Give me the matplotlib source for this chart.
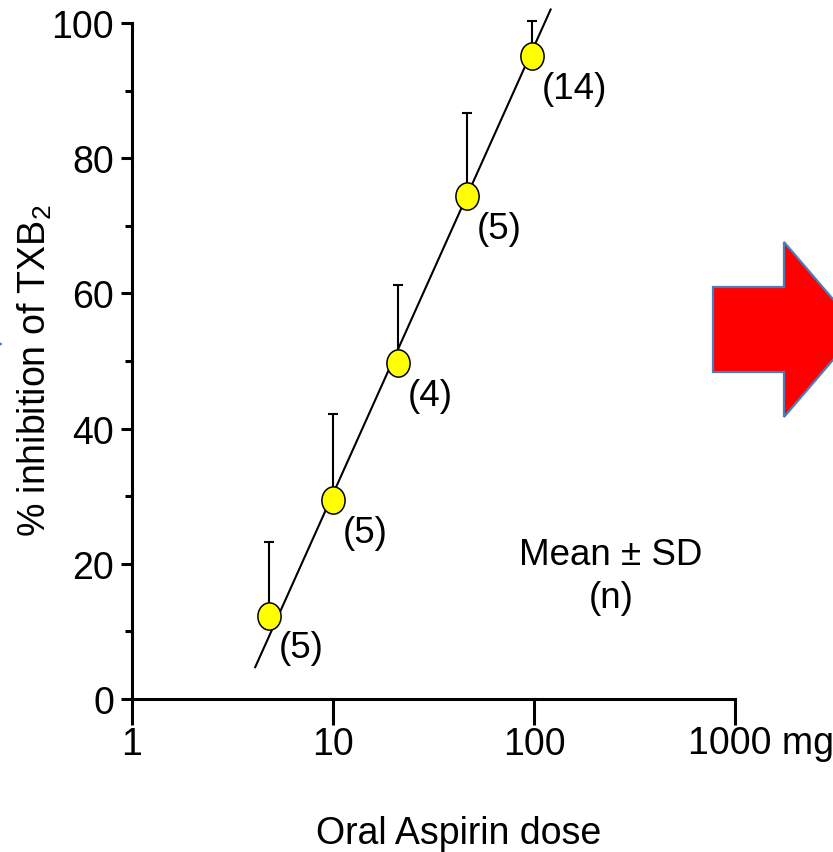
import numpy as np
import matplotlib
matplotlib.use("Agg")
import matplotlib.pyplot as plt
from matplotlib.path import Path
from matplotlib.transforms import Affine2D
from matplotlib.patches import Polygon

plt.rcParams['font.family'] = ['Liberation Sans', 'DejaVu Sans']
plt.rcParams['mathtext.fontset'] = 'custom'
plt.rcParams['mathtext.rm'] = 'Liberation Sans'
plt.rcParams['mathtext.it'] = 'Liberation Sans'

# ---- data ----
dose_mg = [4.8, 10.0, 21.0, 46.5, 98.0]
inhibition_mean = [12.3, 29.4, 49.7, 74.4, 95.1]
inhibition_sd = [10.9, 12.8, 11.6, 12.3, 5.2]
n_subjects = ["(5)", "(5)", "(4)", "(5)", "(14)"]
fit_dose = [4.1, 121.0]
fit_inhibition = [4.7, 102.0]
x_ticks = [1, 10, 100, 1000]
x_tick_labels = ["1", "10", "100", "1000 mg"]
y_ticks = [0, 20, 40, 60, 80, 100]

W, H = 833, 853
FS = 27
fig = plt.figure(figsize=(W / 100, H / 100), dpi=100)
ax = fig.add_axes([132 / W, (H - 700) / H, 603 / W, 676 / H])

ax.set_xscale('log')
ax.set_xlim(1, 1000)
ax.set_ylim(0, 100)

# regression line
ax.plot(fit_dose, fit_inhibition, color='black', lw=1.5, clip_on=False, zorder=2)

# upward-only SD bars
ax.errorbar(dose_mg, inhibition_mean,
            yerr=[np.zeros(len(inhibition_sd)), inhibition_sd],
            fmt='none', ecolor='black', elinewidth=1.5, capsize=3.5,
            capthick=1.5, clip_on=False, zorder=3)

# elliptical yellow markers
circ = Path.unit_circle()
ell = Affine2D().scale(23 / 27, 1.0).transform_path(circ)
ax.plot(dose_mg, inhibition_mean, linestyle='none', marker=ell,
        markersize=19.6, markerfacecolor='#FFFF00', markeredgecolor='black',
        markeredgewidth=1.1, clip_on=False, zorder=4)

for x, y, lab in zip(dose_mg, inhibition_mean, n_subjects):
    ax.annotate(lab, xy=(x, y), xytext=(10, -32), textcoords='offset pixels',
                ha='left', va='center', fontsize=26.5)

ax.text(241, 18.2, "Mean ± SD\n(n)", ha='center', va='center',
        multialignment='center', fontsize=26.5, linespacing=1.3)

# axes styling
for s in ['top', 'right']:
    ax.spines[s].set_visible(False)
for s in ['left', 'bottom']:
    ax.spines[s].set_linewidth(2.2)

ax.set_xticks(x_ticks)
ax.set_xticklabels(x_tick_labels[:-1] + [""])
ax.xaxis.set_minor_locator(matplotlib.ticker.NullLocator())
ax.set_yticks(y_ticks)
ax.set_yticks([10, 30, 50, 70, 90], minor=True)
ax.tick_params(axis='x', which='major', direction='out', length=18.7, width=2.2,
               pad=1, labelsize=FS)
ax.tick_params(axis='y', which='major', direction='out', length=7.9, width=2.2,
               pad=5, labelsize=FS)
ax.tick_params(axis='y', which='minor', direction='out', length=5, width=2.2)

# last tick label "1000 mg"
ax.annotate(x_tick_labels[-1], xy=(x_ticks[-1], 0),
            xycoords=('data', 'axes fraction'),
            xytext=(-47, -44), textcoords='offset pixels',
            ha='left', va='center', fontsize=FS, annotation_clip=False)

fig.text(35 / W, 1 - 371 / H, "% inhibition of TXB$_2$", rotation=90,
         ha='center', va='center', fontsize=FS)
fig.text(459 / W, 1 - 834 / H, "Oral Aspirin dose", ha='center', va='center',
         fontsize=FS)

# red block arrow on the right (partially cut off)
arrow_px = [(713, 288), (784, 288), (784, 243), (859, 330.5),
            (784, 418), (784, 373), (713, 373)]
arrow = Polygon([(x / W, 1 - y / H) for x, y in arrow_px], closed=True,
                transform=fig.transFigure, facecolor='#FF0000',
                edgecolor='#4A7EBB', linewidth=1.6, clip_on=False)
fig.patches.append(arrow)

# tiny blue tip at the left edge
tip_px = [(-4, 341), (2, 345), (-4, 349)]
tip = Polygon([(x / W, 1 - y / H) for x, y in tip_px], closed=True,
              transform=fig.transFigure, facecolor='#4A7EBB',
              edgecolor='#4A7EBB', linewidth=0.5)
fig.patches.append(tip)

fig.savefig("out.png", dpi=100)
